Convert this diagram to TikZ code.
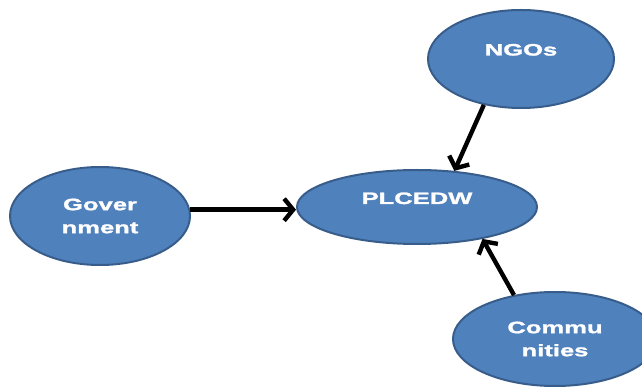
\documentclass[tikz,border=0pt]{standalone}
\usepackage{fontspec}
\newfontfamily\lblfont[FakeStretch=1.55,BoldFeatures={FakeBold=1.6}]{Liberation Sans}
\usetikzlibrary{shapes.geometric,arrows.meta}
\definecolor{blobfill}{HTML}{4F81BD}
\definecolor{blobline}{HTML}{385D8A}
\begin{document}
\begin{tikzpicture}[x=1pt,y=-1pt,
  blob/.style={ellipse,draw=blobline,line width=2pt,fill=blobfill,inner sep=0pt,
    text=white,align=center,font=\lblfont\bfseries\fontsize{16.5}{23}\selectfont},
  arr/.style={line width=4.4pt,-{Straight Barb[length=9pt,width=22pt]}}]

\clip (0,0) rectangle (642,387);

\node[blob,minimum width=186pt,minimum height=98pt,text height=12pt,text depth=19pt] (ngo) at (521,59) {NGOs};
\node[blob,minimum width=240pt,minimum height=74pt,text height=12pt,text depth=18pt] (plc) at (417,207) {PLCEDW};
\node[blob,minimum width=180pt,minimum height=98pt] (gov) at (100,216) {Gover\\nment};
\node[blob,minimum width=204pt,minimum height=94pt] (com) at (555,339) {Commu\\nities};

\draw[arr] (gov.4) -- (gov.4 -| plc.west);
\draw[arr] (ngo.231) -- (plc.44);
\draw[arr] (com.133) -- (plc.334);
\end{tikzpicture}
\end{document}
